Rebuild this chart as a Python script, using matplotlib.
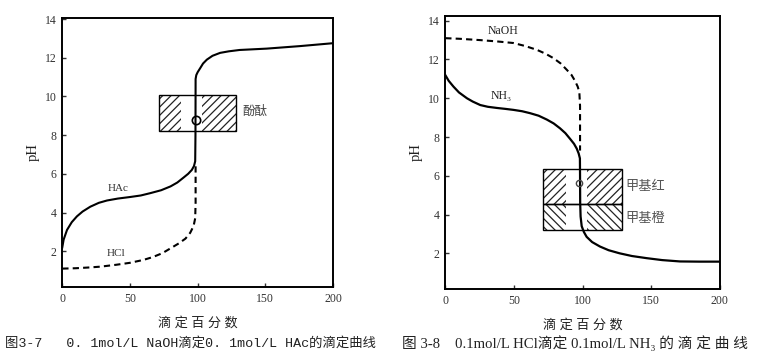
import matplotlib
matplotlib.use("Agg")
import matplotlib.pyplot as plt
from matplotlib.patches import Rectangle

plt.rcParams["font.family"] = ["Liberation Serif", "Noto Sans CJK SC", "DejaVu Serif"]
plt.rcParams["hatch.linewidth"] = 0.9

# ---- fig 3-7 : NaOH titrating HAc / HCl ----
hac_x = [0, 1, 3.5, 7, 10.8, 15, 20.7, 27, 33, 41, 50, 58, 65, 73, 80, 85, 89.5, 93, 95.7, 97.3, 98.2,
         98.4, 98.5, 99, 100, 101.8, 104, 106.8, 111, 116.6, 123, 131, 151, 175.6, 200]
hac_y = [2.2, 2.6, 3.1, 3.5, 3.8, 4.05, 4.3, 4.5, 4.62, 4.72, 4.8, 4.88, 5.0, 5.15, 5.35, 5.55, 5.8, 6.0, 6.2, 6.4, 6.65,
         8.0, 10.9, 11.1, 11.25, 11.45, 11.7, 11.9, 12.1, 12.25, 12.33, 12.4, 12.47, 12.6, 12.75]
hcl_x = [0, 10, 20, 28, 40, 50, 60, 67, 74, 80, 86, 91, 94.5, 97, 98.2, 98.5, 98.5]
hcl_y = [1.1, 1.12, 1.16, 1.2, 1.3, 1.4, 1.55, 1.7, 1.9, 2.15, 2.4, 2.65, 2.95, 3.3, 3.7, 4.5, 6.6]
pp_range = [8.2, 10.05]          # 酚酞
pp_eq = (98.5, 8.8)

# ---- fig 3-8 : HCl titrating NH3 / NaOH ----
nh3_x = [0, 2.5, 6, 10, 15.8, 20, 25.5, 31, 37.6, 44, 49.7, 56, 61.8, 68, 74, 79, 83.6, 87.5, 91, 93.8, 95.8, 97.2, 98.1,
         98.2, 98.3, 98.6, 99.4, 101, 103, 107, 112.7, 119, 127, 136, 146.7, 158, 171, 185, 200]
nh3_y = [11.2, 10.9, 10.6, 10.3, 10.0, 9.83, 9.65, 9.56, 9.5, 9.45, 9.4, 9.33, 9.23, 9.1, 8.9, 8.7, 8.45, 8.2, 7.9, 7.65, 7.4, 7.15, 6.9,
         6.0, 4.6, 3.9, 3.4, 3.1, 2.85, 2.58, 2.35, 2.16, 2.0, 1.86, 1.75, 1.65, 1.58, 1.57, 1.57]
naoh_x = [0, 10, 25.5, 38, 49.7, 58, 66.7, 73, 78.8, 84, 88.5, 92, 94.5, 96.5, 97.7, 98.2, 98.2]
naoh_y = [13.1, 13.07, 13.0, 12.93, 12.85, 12.7, 12.5, 12.3, 12.07, 11.8, 11.47, 11.2, 10.9, 10.6, 10.3, 9.6, 7.3]
mr_range = [4.55, 6.35]          # 甲基红
mo_range = [3.2, 4.55]           # 甲基橙
mr_eq = (97.7, 5.65)

box_x = [71.5, 128.5]
hatch_spans = [(71.5, 88), (103.5, 128.5)]

xticks = [0, 50, 100, 150, 200]
yticks = [2, 4, 6, 8, 10, 12, 14]

fig = plt.figure(figsize=(7.69, 3.61), dpi=100)
ax1 = fig.add_axes([0.081, 0.205, 0.352, 0.745])
ax2 = fig.add_axes([0.579, 0.199, 0.357, 0.757])


def style_axes(ax, ytop):
    ax.set_xlim(0, 200)
    ax.set_ylim(0.15, ytop)
    ax.set_xticks(xticks)
    ax.set_yticks(yticks)
    ax.tick_params(direction="in", length=3, width=1, labelsize=8.5, pad=4, colors="#333333")
    for s in ax.spines.values():
        s.set_linewidth(1.4)
    ax.set_xlabel("滴 定 百 分 数", fontsize=9.5, labelpad=9, color="#222222")
    ax.set_ylabel("pH", fontsize=10.5, labelpad=4, color="#222222")


def indicator_box(ax, lo, hi, hatch):
    for a, b in hatch_spans:
        ax.add_patch(Rectangle((a, lo), b - a, hi - lo, fill=False, hatch=hatch,
                               edgecolor="#222222", linewidth=0))
    ax.add_patch(Rectangle((box_x[0], lo), box_x[1] - box_x[0], hi - lo, fill=False,
                           edgecolor="black", linewidth=1.0))


# left
indicator_box(ax1, pp_range[0], pp_range[1], "////")
ax1.plot(hcl_x, hcl_y, color="black", lw=1.5, ls=(0, (3, 2)))
ax1.plot(hac_x, hac_y, color="black", lw=1.5)
ax1.plot(*pp_eq, marker="o", ms=6, mfc="none", mec="black", mew=1.2)
ax1.text(41, 5.1, "HAc", fontsize=8, ha="center", color="#333333")
ax1.text(40, 1.75, "HCl", fontsize=8, ha="center", color="#333333")
ax1.text(133, 9.2, "酚酞", fontsize=9, va="center", color="#444444")
style_axes(ax1, 14.05)

# right
indicator_box(ax2, mr_range[0], mr_range[1], "////")
indicator_box(ax2, mo_range[0], mo_range[1], "\\\\\\\\")
ax2.plot(naoh_x, naoh_y, color="black", lw=1.5, ls=(0, (3, 2)))
ax2.plot(nh3_x, nh3_y, color="black", lw=1.6)
ax2.plot(*mr_eq, marker="o", ms=4.5, mfc="none", mec="#444444", mew=1)
ax2.text(42, 13.3, "NaOH", fontsize=8.5, ha="center", color="#222222")
ax2.text(41, 9.95, "NH₃", fontsize=8.5, ha="center", color="#222222")
ax2.text(131, 5.45, "甲基红", fontsize=9.5, va="center", color="#555555")
ax2.text(131, 3.75, "甲基橙", fontsize=9.5, va="center", color="#555555")
style_axes(ax2, 14.25)

fig.text(0.007, 0.05, "图3-7   0. 1mol/L NaOH滴定0. 1mol/L HAc的滴定曲线", fontsize=9.6,
         family=["Liberation Mono", "Noto Sans CJK SC"], va="center", color="#222222")
fig.text(0.523, 0.05, "图 3-8    0.1mol/L HCl滴定 0.1mol/L NH₃ 的 滴 定 曲 线", fontsize=10.6,
         va="center", color="#222222")

fig.savefig("out.png", dpi=100)
